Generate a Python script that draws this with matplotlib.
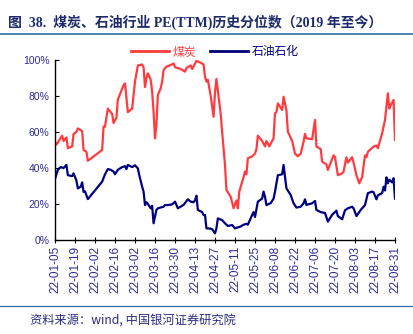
import numpy as np
import pandas as pd
import matplotlib
matplotlib.use("Agg")
import matplotlib.pyplot as plt
import matplotlib.dates as mdates
from matplotlib.lines import Line2D

plt.rcParams['font.family'] = ['Liberation Sans', 'Noto Sans CJK SC', 'DejaVu Sans']

# coal sector PE(TTM) percentile (%)
coal_dates = ['01-05', '01-06', '01-10', '01-11', '01-13', '01-14', '01-17', '01-18', '01-20', '01-21',
              '01-24', '01-25', '01-27', '01-28', '02-07', '02-08', '02-09', '02-11', '02-14', '02-15',
              '02-17', '02-18', '02-22', '02-23', '02-25', '02-28', '03-02', '03-04', '03-07', '03-08',
              '03-09', '03-10', '03-11', '03-13', '03-14', '03-15', '03-16', '03-17', '03-18', '03-20',
              '03-21', '03-22', '03-24', '03-27', '03-29', '03-30', '04-03', '04-06', '04-07', '04-10',
              '04-11', '04-13', '04-14', '04-17', '04-19', '04-20', '04-21', '04-22', '04-24', '04-26',
              '04-27', '04-28', '05-01', '05-02', '05-04', '05-05', '05-08', '05-10', '05-12', '05-13',
              '05-14', '05-17', '05-18', '05-19', '05-20', '05-23', '05-25', '05-26', '05-27', '05-30',
              '06-01', '06-02', '06-04', '06-07', '06-08', '06-09', '06-10', '06-13', '06-14', '06-16',
              '06-17', '06-20', '06-22', '06-24', '06-26', '06-28', '06-29', '06-30', '07-04', '07-06',
              '07-07', '07-10', '07-11', '07-14', '07-15', '07-19', '07-20', '07-22', '07-25', '07-26',
              '07-28', '07-29', '08-01', '08-02', '08-04', '08-06', '08-08', '08-10', '08-11', '08-12',
              '08-16', '08-18', '08-19', '08-22', '08-24', '08-26', '08-27', '08-28', '08-30', '08-31']
coal_vals = [54.6, 53, 58, 55, 57, 51, 52, 59, 60, 62,
             60.5, 50, 49, 44, 50, 63, 63, 73, 70, 65,
             68, 78, 86, 87, 71, 73, 88, 97, 97.5, 96,
             85, 90, 92.6, 89, 82.4, 71.3, 56.5, 64, 80.6, 84.3,
             88, 94.4, 96.3, 97.2, 98.1, 96, 95, 93.5, 95.5, 97,
             95, 98, 99.5, 98.5, 97.5, 90.7, 88, 89, 80, 68.5,
             82, 89.5, 70, 60, 41.7, 27.8, 24, 17.6, 22, 17.6,
             26.9, 35, 38, 36.5, 45.4, 46.5, 48, 50.5, 58, 55,
             52, 55, 52, 56.5, 70.4, 71, 75.9, 72.2, 79.6, 72,
             60.2, 55, 48, 46.5, 48, 54.6, 59, 56.5, 56, 66.7,
             51.9, 50.5, 43.5, 42, 38.9, 47, 46, 36, 37, 38,
             46, 43, 46, 43, 36, 31.5, 35, 47, 46, 49,
             51.9, 52.5, 51, 59.3, 66.7, 81.5, 73, 75, 77.8, 55.6]

# oil & petrochemical sector
oil_dates = ['01-05', '01-07', '01-09', '01-11', '01-13', '01-14', '01-17', '01-18', '01-20', '01-21',
             '01-23', '01-24', '01-25', '01-26', '01-28', '02-07', '02-09', '02-11', '02-13', '02-15',
             '02-16', '02-18', '02-21', '02-23', '02-24', '02-25', '02-28', '03-02', '03-04', '03-05',
             '03-07', '03-08', '03-09', '03-10', '03-11', '03-13', '03-14', '03-15', '03-17', '03-18',
             '03-22', '03-23', '03-25', '03-28', '03-30', '03-31', '04-01', '04-05', '04-08', '04-10',
             '04-12', '04-13', '04-14', '04-15', '04-18', '04-19', '04-20', '04-21', '04-24', '04-25',
             '04-27', '04-28', '04-29', '05-02', '05-04', '05-06', '05-09', '05-11', '05-15', '05-17',
             '05-19', '05-20', '05-23', '05-24', '05-25', '05-27', '05-30', '05-31', '06-01', '06-02',
             '06-05', '06-07', '06-08', '06-10', '06-13', '06-14', '06-16', '06-19', '06-21', '06-23',
             '06-26', '06-28', '06-29', '06-30', '07-04', '07-06', '07-07', '07-10', '07-13', '07-15',
             '07-18', '07-21', '07-22', '07-25', '07-27', '07-29', '08-01', '08-02', '08-04', '08-07',
             '08-10', '08-12', '08-15', '08-16', '08-18', '08-19', '08-22', '08-23', '08-24', '08-25',
             '08-26', '08-27', '08-29', '08-30', '08-31']
oil_vals = [34, 39, 40.5, 40, 41.7, 36, 35.5, 37, 33, 28.7,
            29.6, 32, 26.7, 27, 22.7, 32.4, 36.5, 39.4, 39, 38,
            36.5, 39, 40.5, 41, 39.4, 41.7, 40.5, 41.5, 39.8, 36,
            29.6, 26.9, 19.4, 21, 20, 17.6, 19, 9.3, 16.7, 17.6,
            18.5, 19.4, 19.4, 19.8, 21.3, 19.5, 17.6, 19.5, 22.6, 21.3,
            21, 22, 24.6, 16.7, 15.5, 13.9, 13.9, 6.5, 6.3, 6,
            3.7, 6.5, 12, 11, 9.3, 7.8, 8.3, 6.5, 7.5, 8.5,
            9, 8.5, 13.9, 15.5, 12.8, 21.3, 23, 26.9, 24, 19.4,
            20.5, 23, 26.9, 36, 36.5, 41.7, 28.7, 25, 20.4, 18,
            18.5, 20.4, 22.6, 19.5, 20.4, 21.7, 16.7, 15.5, 15, 10.2,
            14, 16.3, 13.3, 11.5, 16.5, 17.6, 18.5, 17.6, 13.3, 16.7,
            19.4, 26, 26.9, 26.5, 22.6, 24.8, 26, 29.6, 27.5, 34.8,
            31.5, 33.5, 32, 34.3, 23]

series_names = ['煤炭', '石油石化']
title = '图  38.  煤炭、石油行业 PE(TTM)历史分位数（2019 年至今）'
source = '资料来源：wind, 中国银河证券研究院'

RED = '#ff3b3f'
NAVY = '#00007f'
LABEL = '#2b2b96'


def to_dates(md):
    return pd.to_datetime(['2022-' + s for s in md])


fig = plt.figure(figsize=(4.13, 3.34), dpi=100)
ax = fig.add_axes([55 / 413, 1 - 240 / 334, 340 / 413, 180 / 334])

ax.plot(to_dates(coal_dates), coal_vals, color=RED, lw=1.6)
ax.plot(to_dates(oil_dates), oil_vals, color=NAVY, lw=1.6)

start, end = pd.Timestamp('2022-01-05'), pd.Timestamp('2022-08-31')
ax.set_xlim(start, end)
ax.set_xticks(pd.date_range(start, end, freq='14D'))
ax.xaxis.set_major_formatter(mdates.DateFormatter('%y-%m-%d'))
ax.set_ylim(0, 100)
ax.set_yticks(np.arange(0, 101, 20))
ax.set_yticklabels([f'{v}%' for v in range(0, 101, 20)])

for s in ['top', 'right']:
    ax.spines[s].set_visible(False)
for s in ['left', 'bottom']:
    ax.spines[s].set_color('black')
    ax.spines[s].set_linewidth(1.0)

ax.tick_params(axis='x', direction='inout', length=4, width=0.8, labelsize=8.5,
               labelcolor=LABEL, rotation=90, pad=2)
ax.tick_params(axis='y', direction='in', length=3, width=0.8, labelsize=7.5,
               labelcolor=LABEL, pad=4)

handles = [Line2D([], [], color=RED, lw=2), Line2D([], [], color=NAVY, lw=2)]
leg = fig.legend(handles, series_names, loc='center', bbox_to_anchor=(0.52, 1 - 52 / 334),
                 ncol=2, frameon=False, handlelength=3.2,
                 handletextpad=0.3, columnspacing=1.2,
                 prop={'family': ['Noto Sans CJK SC'], 'size': 8.5})
for txt, c in zip(leg.get_texts(), [RED, NAVY]):
    txt.set_color(c)

# header and footer
fig.text(8 / 413, 1 - 22 / 334, title, fontsize=10, fontweight='bold', color='#1c2a6b',
         va='center', ha='left', family=['Liberation Serif', 'Noto Sans CJK SC'])
fig.add_artist(Line2D([0, 1], [1 - 34 / 334] * 2, color='#2f6fa8', lw=1.2))
fig.add_artist(Line2D([0, 1], [1 - 306 / 334] * 2, color='#2f6fa8', lw=0.9))
fig.text(30 / 413, 1 - 320 / 334, source, fontsize=8.8, color='#2b2b80', style='italic',
         va='center', ha='left', family=['Noto Sans CJK SC', 'DejaVu Sans'])

fig.savefig('out.png', dpi=100)
